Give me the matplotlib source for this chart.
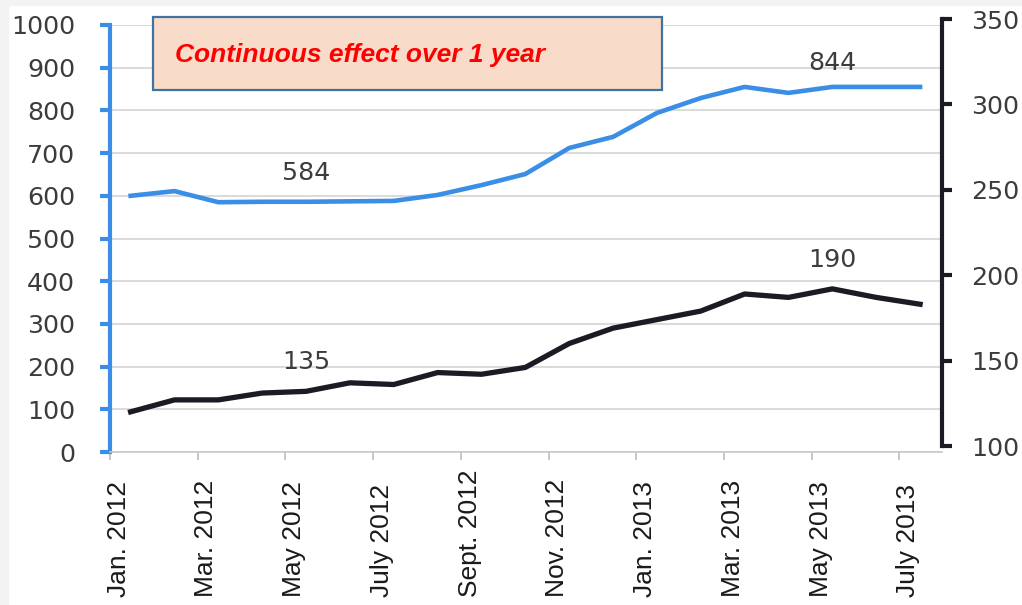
import matplotlib.pyplot as plt
from matplotlib.patches import Rectangle
import numpy as np

months = ['Jan. 2012', 'Mar. 2012', 'May 2012', 'July 2012', 'Sept. 2012',
          'Nov. 2012', 'Jan. 2013', 'Mar. 2013', 'May 2013', 'July 2013']
# monthly values, Jan. 2012 .. July 2013
blue_vals = [600, 611, 585, 586, 586, 587, 588, 602, 625, 651,
             712, 738, 794, 829, 855, 841, 855, 855, 855]
black_vals = [120, 127, 127, 131, 132, 137, 136, 143, 142, 146,
              160, 169, 174, 179, 189, 187, 192, 187, 183]
notes_blue = [(4, '584'), (16, '844')]
notes_black = [(4, '135'), (16, '190')]
title = 'Continuous effect over 1 year'

W, H = 1022, 605
fig = plt.figure(figsize=(W/100, H/100), dpi=100)
fig.patch.set_facecolor('white')
# light grey frame of the screenshot
fig.patches.append(Rectangle((0, 1 - 5/H), 1, 5/H, transform=fig.transFigure,
                             color='#f3f3f3', zorder=-5))
fig.patches.append(Rectangle((0, 0), 8/W, 1, transform=fig.transFigure,
                             color='#f3f3f3', zorder=-5))

ax = fig.add_axes([110/W, 1 - 452/H, 832/W, 427/H])
ax2 = fig.add_axes([110/W, 1 - 446/H, 832/W, 427/H], sharex=ax)
ax2.set_facecolor('none')

x = np.arange(len(blue_vals))
blue = '#3a8ee6'
dark = '#1b1b26'
tick_col = '#3c3c3c'
fs = 18.2

ax.plot(x, blue_vals, color=blue, lw=3.3, solid_joinstyle='round', zorder=3)
ax2.plot(x, black_vals, color=dark, lw=3.8, solid_joinstyle='round', zorder=3)

ax.set_xlim(-0.456, 18.5)
ax.set_ylim(0, 1000)
ax2.set_ylim(100, 350)

ax.set_yticks(np.arange(0, 1001, 100))
ax.yaxis.grid(True, color='#d4d4d4', lw=1.2)
ax.set_axisbelow(True)
for s in ['top', 'right']:
    ax.spines[s].set_visible(False)
ax.spines['left'].set_color(blue)
ax.spines['left'].set_linewidth(3)
ax.spines['bottom'].set_color('#c8c8c8')
ax.spines['bottom'].set_linewidth(1.2)
ax.tick_params(axis='y', colors=blue, length=7, width=3, labelsize=fs,
               labelcolor=tick_col, pad=18)

tick_pos = np.arange(len(months)) * 2 - 0.47
ax.set_xticks(tick_pos)
ax.set_xticklabels([])
ax.tick_params(axis='x', colors='#bdbdbd', length=6, width=1.2)
for k, lab in enumerate(months):
    ax.text(tick_pos[k] + 0.2, -0.34, lab, transform=ax.get_xaxis_transform(),
            rotation=90, ha='center', va='bottom', fontsize=19,
            family='Liberation Sans', color='#1a1a1a')

for s in ['top', 'left', 'bottom']:
    ax2.spines[s].set_visible(False)
ax2.spines['right'].set_color(dark)
ax2.spines['right'].set_linewidth(3)
ax2.yaxis.tick_right()
ax2.set_yticks(np.arange(100, 351, 50))
ax2.tick_params(axis='y', colors=dark, length=7, width=3, labelsize=fs,
                labelcolor=tick_col, pad=14)
ax2.tick_params(axis='x', bottom=False, labelbottom=False)

for i, t in notes_blue:
    dy = 21 if i < 10 else 17
    ax.annotate(t, xy=(x[i], blue_vals[i]), xytext=(0, dy), textcoords='offset points',
                ha='center', va='center', fontsize=fs, color=tick_col)
for i, t in notes_black:
    ax2.annotate(t, xy=(x[i], black_vals[i]), xytext=(0, 21), textcoords='offset points',
                 ha='center', va='center', fontsize=fs, color=tick_col)

fig.patches.append(Rectangle((153/W, 1 - 90/H), 509/W, 73/H, transform=fig.transFigure,
                             facecolor='#f8dbc8', edgecolor='#41719c', lw=1.6, zorder=10))
fig.text(175/W, 1 - 55/H, title, color='red', fontsize=19, fontweight='bold',
         fontstyle='italic', family='Liberation Sans', va='center', ha='left', zorder=11)

fig.savefig('out.png', dpi=100)
